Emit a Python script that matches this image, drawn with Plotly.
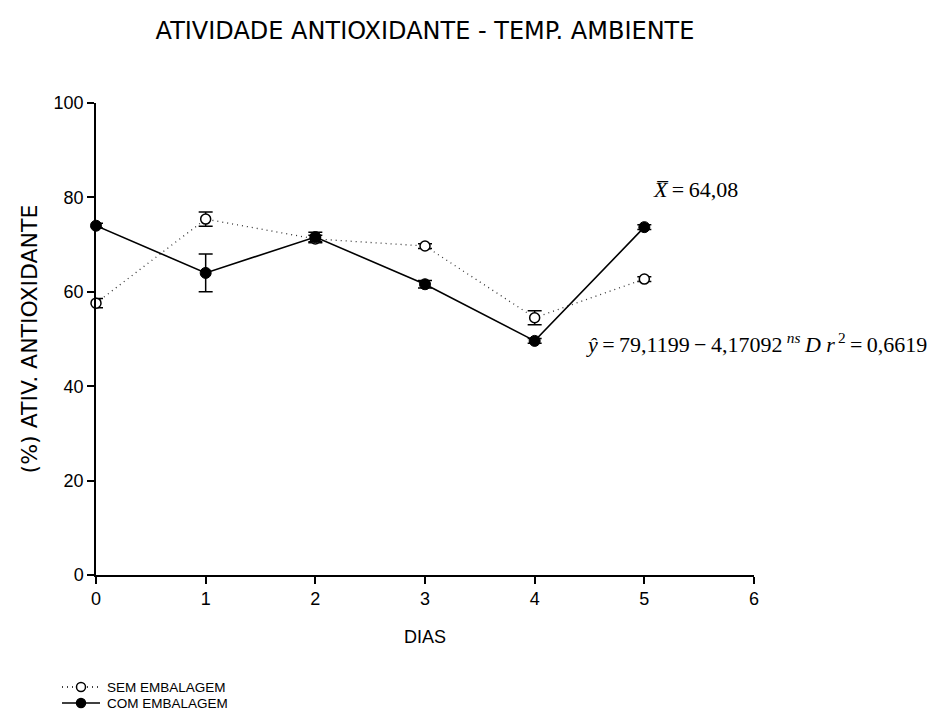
import plotly.graph_objects as go

dias = [0, 1, 2, 3, 4, 5]
sem_emb = [57.6, 75.4, 71.2, 69.7, 54.5, 62.7]
sem_err = [1.0, 1.5, 0.8, 0.5, 1.5, 0.5]
com_emb = [74.0, 64.0, 71.6, 61.6, 49.6, 73.7]
com_err = [0.5, 4.0, 1.0, 0.8, 0.5, 0.5]
x_ticks = [0, 1, 2, 3, 4, 5, 6]
y_ticks = [0, 20, 40, 60, 80, 100]
legend_names = ["SEM EMBALAGEM", "COM EMBALAGEM"]

sans = "Liberation Sans, Arial, sans-serif"
wide = "DejaVu Sans, Liberation Sans, sans-serif"
serif = "Liberation Serif, Times New Roman, serif"

# plot area in pixels
L, R, T, B = 96, 754, 103, 575
W, H = 931, 713


def px_x(p):
    return (p - L) / (R - L)


def px_y(p):
    return (B - p) / (B - T)


fig = go.Figure()
fig.add_trace(go.Scatter(
    x=dias, y=sem_emb, name=legend_names[0], mode="lines+markers",
    line=dict(color="#333333", width=1.3, dash="1px,4px"),
    marker=dict(symbol="circle", size=10, color="white", line=dict(color="black", width=1.5)),
    error_y=dict(type="data", array=sem_err, color="black", thickness=1.5, width=7),
    cliponaxis=False, showlegend=False,
))
fig.add_trace(go.Scatter(
    x=dias, y=com_emb, name=legend_names[1], mode="lines+markers",
    line=dict(color="black", width=1.6),
    marker=dict(symbol="circle", size=11, color="black", line=dict(color="black", width=1)),
    error_y=dict(type="data", array=com_err, color="black", thickness=1.5, width=7),
    cliponaxis=False, showlegend=False,
))

# annotations
fig.add_annotation(x=px_x(651), y=px_y(190), xref="paper", yref="paper", xanchor="left", yanchor="middle",
                   text="<i>X̅</i>\u2009=\u200964,08", showarrow=False,
                   font=dict(family=serif, size=22, color="black"))
fig.add_annotation(x=px_x(929), y=px_y(343), xref="paper", yref="paper", xanchor="right", yanchor="middle",
                   text="<i>ŷ</i>\u2009=\u200979,1199\u2009−\u20094,17092\u2009<sup><i>ns</i></sup>\u2009<i>D r</i><sup>\u20092</sup>\u2009=\u20090,6619",
                   showarrow=False, font=dict(family=serif, size=22, color="black"))

# manual legend (keeps the plot area fixed)
rows = [(687, "1px,4px", "white"), (703, "solid", "black")]
for (py, dash, fill), name in zip(rows, legend_names):
    fig.add_shape(type="line", xref="paper", yref="paper",
                  x0=px_x(62), x1=px_x(100), y0=px_y(py), y1=px_y(py),
                  line=dict(color="black", width=1.6 if dash == "solid" else 1.3, dash=dash))
    fig.add_shape(type="circle", xref="paper", yref="paper", xsizemode="pixel", ysizemode="pixel",
                  xanchor=px_x(81), yanchor=px_y(py), x0=-4.5, x1=4.5, y0=-4.5, y1=4.5,
                  fillcolor=fill, line=dict(color="black", width=1.5))
    fig.add_annotation(x=px_x(105), y=px_y(py), xref="paper", yref="paper", xanchor="left",
                       yanchor="middle", text=name, showarrow=False,
                       font=dict(family=sans, size=13.5, color="black"))

fig.update_layout(
    width=W, height=H,
    margin=dict(l=L, r=W - R, t=T, b=H - B),
    paper_bgcolor="white", plot_bgcolor="white",
    title=dict(text="ATIVIDADE ANTIOXIDANTE - TEMP. AMBIENTE", x=0.5, xref="paper", xanchor="center",
               y=1 - 31 / H, yanchor="middle", font=dict(family=wide, size=24, color="black")),
    font=dict(family=sans, size=16, color="black"),
    showlegend=False,
    xaxis=dict(range=[0, 6], tickvals=x_ticks, ticktext=[str(v) for v in x_ticks],
               showgrid=False, zeroline=False, showline=True, linecolor="black", linewidth=1.5,
               ticks="outside", ticklen=7, tickcolor="black", tickwidth=1.5,
               tickfont=dict(family=sans, size=18), automargin=False,
               title=dict(text="DIAS", font=dict(family=sans, size=18), standoff=22)),
    yaxis=dict(range=[0, 100], tickvals=y_ticks, ticktext=[str(v) for v in y_ticks],
               showgrid=False, zeroline=False, showline=True, linecolor="black", linewidth=1.5,
               ticks="outside", ticklen=7, tickcolor="black", tickwidth=1.5,
               tickfont=dict(family=sans, size=18), automargin=False,
               title=dict(text="(%) ATIV. ANTIOXIDANTE", font=dict(family=wide, size=22), standoff=10)),
)

fig.write_html("out.html")
